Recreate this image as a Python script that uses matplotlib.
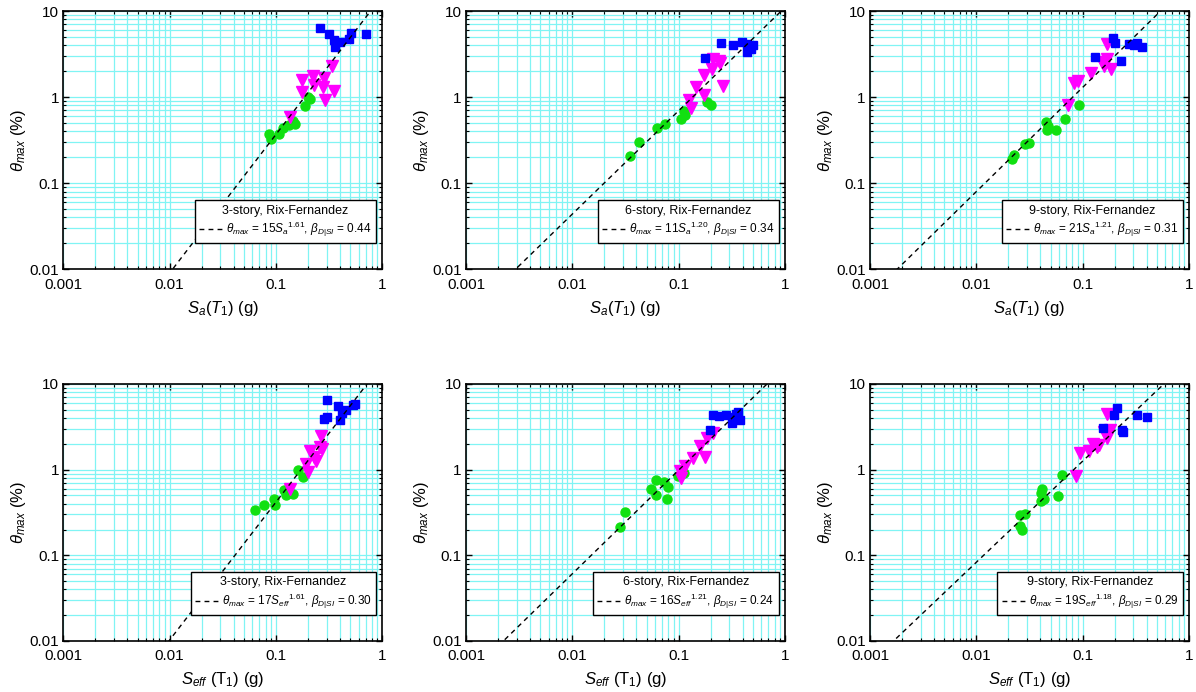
import numpy as np
import matplotlib
matplotlib.use("Agg")
import matplotlib.pyplot as plt
from matplotlib.ticker import LogLocator, FuncFormatter, NullFormatter

plt.rcParams.update({"font.family": ["Liberation Sans", "DejaVu Sans"], "font.size": 11,
                     "mathtext.fontset": "custom", "mathtext.rm": "Liberation Sans",
                     "mathtext.it": "Liberation Sans:italic", "mathtext.bf": "Liberation Sans:bold"})

GRID = "#80f4f4"; C_SQ = "#0000ff"; C_TRI = "#ff00ff"; C_CIR = "#11e011"

# ── data (x = spectral accel. in g, y = theta_max in %) ──
# top row: Sa(T1)
tl_sq_x  = [0.262, 0.314, 0.355, 0.403, 0.36, 0.508, 0.483, 0.703]
tl_sq_y  = [6.3, 5.38, 4.59, 4.31, 3.77, 5.53, 4.67, 5.47]
tl_tri_x = [0.337, 0.225, 0.286, 0.175, 0.226, 0.275, 0.35, 0.177, 0.287, 0.136]
tl_tri_y = [2.32, 1.78, 1.66, 1.58, 1.40, 1.30, 1.19, 1.14, 0.916, 0.588]
tl_cir_x = [0.211, 0.2, 0.188, 0.152, 0.134, 0.116, 0.106, 0.086, 0.089, 0.144]
tl_cir_y = [0.958, 1.0, 0.78, 0.493, 0.48, 0.438, 0.371, 0.368, 0.322, 0.53]

tm_sq_x  = [0.178, 0.248, 0.326, 0.398, 0.443, 0.502, 0.443, 0.477]
tm_sq_y  = [2.82, 4.20, 3.98, 4.42, 4.13, 4.05, 3.30, 3.61]
tm_tri_x = [0.211, 0.238, 0.246, 0.208, 0.174, 0.262, 0.146, 0.174, 0.126, 0.130]
tm_tri_y = [2.77, 2.60, 2.47, 2.12, 1.83, 1.36, 1.30, 1.07, 0.915, 0.754]
tm_cir_x = [0.183, 0.201, 0.113, 0.114, 0.105, 0.075, 0.063, 0.0428, 0.0348]
tm_cir_y = [0.868, 0.80, 0.689, 0.615, 0.563, 0.484, 0.443, 0.303, 0.208]

tr_sq_x  = [0.193, 0.202, 0.274, 0.305, 0.358, 0.131, 0.232, 0.328]
tr_sq_y  = [4.92, 4.20, 4.13, 4.05, 3.87, 2.89, 2.65, 4.20]
tr_tri_x = [0.171, 0.171, 0.153, 0.159, 0.184, 0.121, 0.091, 0.0828, 0.0733]
tr_tri_y = [4.13, 2.77, 2.54, 2.32, 2.12, 1.91, 1.52, 1.47, 0.80]
tr_cir_x = [0.0923, 0.0681, 0.0448, 0.0474, 0.0556, 0.0465, 0.0311, 0.0286, 0.0225, 0.0217]
tr_cir_y = [0.80, 0.563, 0.514, 0.459, 0.413, 0.42, 0.294, 0.284, 0.212, 0.189]

# bottom row: Seff(T1)
bl_sq_x  = [0.303, 0.381, 0.527, 0.55, 0.457, 0.42, 0.286, 0.3, 0.403]
bl_sq_y  = [6.5, 5.6, 5.7, 5.9, 5.0, 4.6, 3.95, 4.1, 3.85]
bl_tri_x = [0.266, 0.257, 0.27, 0.207, 0.23, 0.24, 0.193, 0.2, 0.136]
bl_tri_y = [2.45, 1.85, 1.72, 1.65, 1.40, 1.25, 1.17, 0.94, 0.6]
bl_cir_x = [0.163, 0.178, 0.12, 0.125, 0.144, 0.096, 0.098, 0.0776, 0.064]
bl_cir_y = [1.0, 0.82, 0.585, 0.5, 0.52, 0.45, 0.385, 0.385, 0.337]

bm_sq_x  = [0.209, 0.242, 0.279, 0.347, 0.365, 0.378, 0.320, 0.197, 0.340]
bm_sq_y  = [4.4, 4.2, 4.3, 4.5, 4.7, 3.78, 3.5, 2.93, 4.1]
bm_tri_x = [0.212, 0.186, 0.159, 0.137, 0.178, 0.115, 0.103, 0.105]
bm_tri_y = [2.65, 2.32, 1.9, 1.37, 1.42, 1.1, 0.955, 0.8]
bm_cir_x = [0.0982, 0.113, 0.0609, 0.0734, 0.080, 0.055, 0.0609, 0.0773, 0.0313, 0.0281]
bm_cir_y = [0.85, 0.91, 0.75, 0.71, 0.63, 0.6, 0.5, 0.46, 0.317, 0.217]

br_sq_x  = [0.209, 0.197, 0.323, 0.399, 0.156, 0.237, 0.242]
br_sq_y  = [5.2, 4.38, 4.3, 4.1, 3.07, 2.88, 2.72]
br_tri_x = [0.171, 0.159, 0.180, 0.168, 0.143, 0.124, 0.136, 0.115, 0.0944, 0.0873]
br_tri_y = [4.5, 2.76, 2.88, 2.32, 1.94, 2.02, 1.84, 1.65, 1.55, 0.84]
br_cir_x = [0.0634, 0.0417, 0.041, 0.0431, 0.0402, 0.059, 0.029, 0.026, 0.026, 0.027]
br_cir_y = [0.86, 0.6, 0.54, 0.45, 0.43, 0.49, 0.307, 0.297, 0.221, 0.198]

titles = ["3-story, Rix-Fernandez", "6-story, Rix-Fernandez", "9-story, Rix-Fernandez"] * 2
coef   = [15, 11, 21, 17, 16, 19]
expo   = ["1.61", "1.20", "1.21", "1.61", "1.21", "1.18"]
beta   = ["0.44", "0.34", "0.31", "0.30", "0.24", "0.29"]

panels = [(tl_sq_x, tl_sq_y, tl_tri_x, tl_tri_y, tl_cir_x, tl_cir_y),
          (tm_sq_x, tm_sq_y, tm_tri_x, tm_tri_y, tm_cir_x, tm_cir_y),
          (tr_sq_x, tr_sq_y, tr_tri_x, tr_tri_y, tr_cir_x, tr_cir_y),
          (bl_sq_x, bl_sq_y, bl_tri_x, bl_tri_y, bl_cir_x, bl_cir_y),
          (bm_sq_x, bm_sq_y, bm_tri_x, bm_tri_y, bm_cir_x, bm_cir_y),
          (br_sq_x, br_sq_y, br_tri_x, br_tri_y, br_cir_x, br_cir_y)]

fig = plt.figure(figsize=(11.96, 6.92), dpi=100)
lefts = [0.0529, 0.3896, 0.7274]
rows = [(0.6108, 0.3733), (0.0737, 0.3714)]
fmt = FuncFormatter(lambda v, p: f"{v:g}")
xs = np.logspace(-3, 0, 60)

for i, (sqx, sqy, trx, try_, cx, cy) in enumerate(panels):
    r, c = divmod(i, 3)
    ax = fig.add_axes([lefts[c], rows[r][0], 0.2667, rows[r][1]])
    ax.set_xscale("log"); ax.set_yscale("log")
    ax.set_xlim(0.001, 1); ax.set_ylim(0.01, 10)
    ax.xaxis.set_major_locator(LogLocator(10, numticks=10))
    ax.yaxis.set_major_locator(LogLocator(10, numticks=10))
    ax.xaxis.set_minor_locator(LogLocator(10, subs=np.arange(2, 10), numticks=20))
    ax.yaxis.set_minor_locator(LogLocator(10, subs=np.arange(2, 10), numticks=20))
    ax.xaxis.set_major_formatter(fmt); ax.yaxis.set_major_formatter(fmt)
    ax.xaxis.set_minor_formatter(NullFormatter()); ax.yaxis.set_minor_formatter(NullFormatter())
    ax.grid(which="both", color=GRID, lw=0.9)
    ax.set_axisbelow(True)
    ax.tick_params(which="both", direction="in", top=True, right=True, labelsize=11)
    ax.tick_params(axis="x", which="major", pad=6)
    ax.tick_params(axis="y", which="major", pad=3)
    ax.tick_params(which="major", length=4, width=1)
    ax.tick_params(which="minor", length=2.5, width=0.8)
    for s in ax.spines.values():
        s.set_linewidth(1.2)

    ax.plot(cx, cy, "o", color=C_CIR, ms=6.5, mec=C_CIR, ls="none", zorder=3)
    ax.plot(trx, try_, "v", color=C_TRI, ms=8, mec=C_TRI, ls="none", zorder=4)
    ax.plot(sqx, sqy, "s", color=C_SQ, ms=6, mec=C_SQ, ls="none", zorder=5)

    s = "S_a" if r == 0 else "S_{eff}"
    lab = rf"$\theta_{{max}}$ = {coef[i]}${s}{{}}^{{{expo[i]}}}$, $\beta_{{D|SI}}$ = {beta[i]}"
    ax.plot(xs, coef[i] * xs ** float(expo[i]), color="black", lw=1, ls=(0, (3.5, 3)),
            zorder=6, label=lab)
    leg = ax.legend(title=titles[i], loc="lower right", bbox_to_anchor=(0.98, 0.1),
                    borderaxespad=0, prop={"size": 8.5}, title_fontsize=9, fancybox=False,
                    edgecolor="black", framealpha=1, handlelength=2.0, handletextpad=0.3,
                    borderpad=0.35, labelspacing=0.3)
    leg.get_frame().set_linewidth(1.0)
    leg.set_zorder(10)

    if r == 0:
        ax.set_xlabel(r"$S_a$($T_1$) (g)", fontsize=12, labelpad=5)
    else:
        ax.set_xlabel(r"$S_{eff}$ (T$_1$) (g)", fontsize=12, labelpad=5)
    ax.set_ylabel(r"$\theta_{max}$ (%)", fontsize=12, labelpad=1)

fig.savefig("out.png", dpi=100)
